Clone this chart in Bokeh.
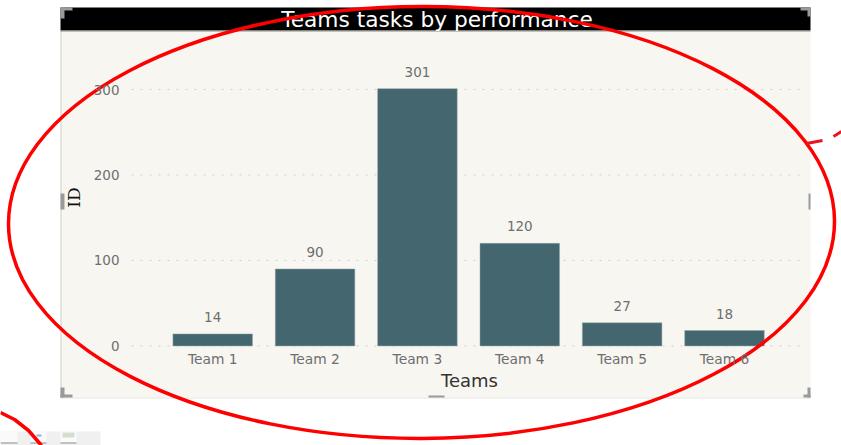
from bokeh.plotting import figure
from bokeh.models import Range1d, FixedTicker, ColumnDataSource
from bokeh.core.properties import value
from bokeh.embed import file_html
from bokeh.resources import INLINE

teams = ["Team 1", "Team 2", "Team 3", "Team 4", "Team 5", "Team 6"]
tasks = [14, 90, 301, 120, 27, 18]
y_ticks = [0, 100, 200, 300]
title_text = "Teams tasks by performance"
x_title = "Teams"
y_title = "ID"

W, H = 841, 445
OX, OY = 0, 0
# window pixel <-> data mapping of the reference's axes
X1, DX = 212.2, 102.36
Y0, DY = 345.4, 0.8545


def dx(px):
    return 1 + (px - X1) / DX


def dy(py):
    return (Y0 - py) / DY


p = figure(width=W, height=H, output_backend="svg", toolbar_location=None,
           x_range=Range1d(dx(OX), dx(OX + W)), y_range=Range1d(dy(OY + H), dy(OY)),
           min_border=0, min_border_left=0, min_border_right=0, min_border_top=0, min_border_bottom=0,
           x_axis_location="below", y_axis_location="left")
p.outline_line_color = None
p.background_fill_color = "white"
p.border_fill_color = "white"
p.grid.visible = False


def rect(x0, x1, y0, y1, color, alpha=1.0):
    p.quad(left=[dx(x0)], right=[dx(x1)], top=[dy(y0)], bottom=[dy(y1)],
           fill_color=color, fill_alpha=alpha, line_color=None)


# report panel
rect(60, 810, 30, 397, "#F8F6F1")
rect(60, 61, 30, 397, "#CFCFCC")
rect(60, 810, 397, 398, "#E4E4E2")
rect(60, 810, 7, 30, "#000000")
rect(60, 810, 30, 31, "#8A8A80")

# grid lines
xs0 = [dx(131)] * len(y_ticks)
xs1 = [dx(805)] * len(y_ticks)
p.segment(x0=xs0, x1=xs1, y0=y_ticks, y1=y_ticks, line_color="#CFCFC8", line_width=1, line_dash="2 7")

# bars
positions = list(range(1, len(teams) + 1))
src = ColumnDataSource(dict(x=positions, top=tasks, label=[str(v) for v in tasks], team=teams))
p.vbar(x="x", top="top", bottom=0, width=0.777, source=src, fill_color="#44666F", line_color="#8FA3A8", line_width=0.5)
p.text(x="x", y="top", text="label", source=src, text_align="center", text_baseline="bottom",
       y_offset=-12, text_font=value("DejaVu Sans"), text_font_size="13.5px", text_color="#6E6E6E")

# axes (fixed inside the single full-canvas frame)
xa = p.xaxis[0]
xa.fixed_location = 1.5
xa.ticker = FixedTicker(ticks=positions)
xa.major_label_overrides = {i: t for i, t in zip(positions, teams)}
xa.bounds = (dx(97), dx(841))
xa.axis_line_color = None
xa.major_tick_line_color = None
xa.minor_tick_line_color = None
xa.major_label_standoff = 0
xa.major_label_text_font = "DejaVu Sans"
xa.major_label_text_font_size = "13.8px"
xa.major_label_text_color = "#6E6E6E"
xa.axis_label = x_title
xa.axis_label_standoff = 0
xa.axis_label_text_font = "DejaVu Sans"
xa.axis_label_text_font_style = "normal"
xa.axis_label_text_font_size = "18px"
xa.axis_label_text_color = "#333333"

ya = p.yaxis[0]
ya.fixed_location = dx(130)
ya.ticker = FixedTicker(ticks=y_ticks)
ya.bounds = (0, dy(49))
ya.axis_line_color = None
ya.major_tick_line_color = None
ya.minor_tick_line_color = None
ya.major_label_standoff = 5
ya.major_label_text_font = "DejaVu Sans"
ya.major_label_text_font_size = "13.5px"
ya.major_label_text_color = "#6E6E6E"
ya.axis_label = y_title
ya.axis_label_standoff = 7
ya.axis_label_text_font = "DejaVu Serif"
ya.axis_label_text_font_style = "normal"
ya.axis_label_text_font_size = "17px"
ya.axis_label_text_color = "#111111"

# title
p.text(x=[dx(436.5)], y=[dy(19)], text=[title_text], text_align="center", text_baseline="alphabetic",
       text_font=value("DejaVu Sans"), text_font_size="21.7px", text_color="#FFFFFF")

# selection handles
H_C = "#9A9A9A"
for a, b, c, d in [(60, 72, 7, 10), (60, 64, 7, 18), (800, 810, 7, 10), (807, 810, 7, 16),
                   (60, 72, 394, 397), (60, 64, 387, 397), (803, 810, 394, 397), (807, 810, 387, 397),
                   (60, 64, 193, 209), (808, 810, 193, 209), (428, 444, 395, 397)]:
    rect(a, b, c, d, H_C)

# spreadsheet toolbar fragment
rect(0, 100, 431, 445, "#F0F0F0")
for a, b in [(0, 17), (30, 46), (60, 76)]:
    rect(a, b, 431, 443, "#FAFAFA")
    rect(a, b, 442, 443, "#8A8A8A")
rect(62, 74, 432, 437, "#C9D7C4", 0.8)
rect(36, 41, 434, 436, "#8EAFD6")

# red hand-drawn annotations
p.ellipse(x=[dx(421)], y=[dy(222)], width=[826], height=[432], width_units="screen", height_units="screen",
          angle=[0.004], fill_color=None, line_color="#FF0000", line_width=3.5)
p.line(x=[dx(806), dx(822)], y=[dy(143), dy(140)], line_color="#E8161C", line_width=3)
p.line(x=[dx(833), dx(841)], y=[dy(136), dy(131)], line_color="#E8161C", line_width=3)
p.line(x=[dx(0), dx(14), dx(28), dx(41)], y=[dy(412), dy(419), dy(430), dy(445)],
       line_color="#FF0000", line_width=3.5)

open("out.html", "w").write(file_html(p, INLINE))
